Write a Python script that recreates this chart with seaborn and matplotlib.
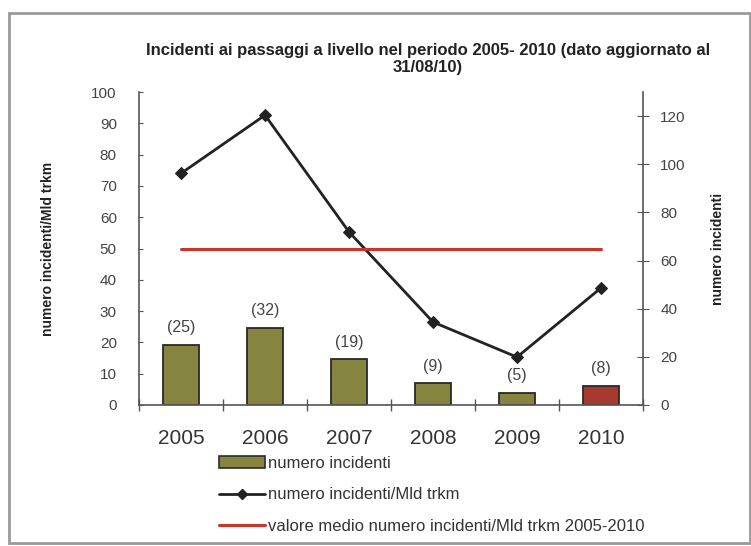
import numpy as np
import pandas as pd
import matplotlib
matplotlib.use("Agg")
import matplotlib.pyplot as plt
from matplotlib.patches import Patch, Rectangle
from matplotlib.lines import Line2D
import seaborn as sns

# Data
anni = ["2005", "2006", "2007", "2008", "2009", "2010"]
numero_incidenti = [25, 32, 19, 9, 5, 8]
incidenti_mld_trkm = [74.0, 92.6, 55.3, 26.5, 15.3, 37.4]
valore_medio = 50.0

bar_colors = ["#85853f", "#85853f", "#85853f", "#85853f", "#85853f", "#a8392e"]

sns.set_style("white")
plt.rcParams["font.family"] = ["Liberation Sans", "DejaVu Sans"]

fig = plt.figure(figsize=(7.51, 5.46), dpi=100)
ax = fig.add_axes([139 / 751, 1 - 405 / 546, (643 - 139) / 751, (405 - 92) / 546])
ax2 = ax.twinx()

df = pd.DataFrame({"anno": anni, "n": numero_incidenti})

# Bars: number of incidents on the right-hand scale
sns.barplot(data=df, x="anno", y="n", hue="anno", palette=bar_colors, legend=False,
            width=0.42, edgecolor="#2a2a2a", linewidth=1.3, ax=ax2, saturation=1)
for i, v in enumerate(numero_incidenti):
    ax2.text(i, v + 4, f"({v})", ha="center", va="bottom", fontsize=11.5, color="#444444")

# Line: incidents per billion train-km on the left-hand scale
x = np.arange(len(anni))
sns.lineplot(x=x, y=incidenti_mld_trkm, ax=ax, color="#222222", marker="D",
             markersize=6, linewidth=2, markeredgecolor="#222222")
sns.lineplot(x=[0, len(anni) - 1], y=[valore_medio, valore_medio], ax=ax,
             color="#c8352a", linewidth=2.2)

# Put the line axes above the bars
ax.set_zorder(ax2.get_zorder() + 1)
ax.patch.set_visible(False)

ax.set_xlim(-0.5, 5.5)
ax.set_ylim(0, 100)
ax2.set_ylim(0, 130)

ax.set_yticks(np.arange(0, 101, 10))
ax2.set_yticks(np.arange(0, 121, 20))
ax.set_xticks(x)
ax.set_xticklabels(anni, fontsize=15, color="#333333")
ax.set_xticks(np.arange(-0.5, 6, 1), minor=True)
ax.tick_params(axis="x", which="major", length=0, pad=17)
ax.tick_params(axis="x", which="minor", length=9, direction="inout", color="#555555", width=1,
               bottom=True)
ax2.tick_params(axis="x", which="both", bottom=False, top=False, labelbottom=False)
ax.set_xlabel("")
ax2.set_xlabel("")
ax.tick_params(axis="y", labelsize=11, labelcolor="#444444", length=3, direction="in",
               color="#555555", pad=16)
ax2.tick_params(axis="y", labelsize=11, labelcolor="#444444", length=9, direction="inout",
                color="#555555", pad=8)

for a in (ax, ax2):
    a.spines["top"].set_visible(False)
    for s in ("left", "right", "bottom"):
        a.spines[s].set_color("#555555")
        a.spines[s].set_linewidth(1.2)
ax.spines["right"].set_visible(False)
ax2.spines["left"].set_visible(False)
ax2.spines["bottom"].set_visible(False)

ax.set_ylabel("numero incidenti/Mld trkm", fontsize=10, fontweight="bold", labelpad=26,
              color="#222222")
ax2.set_ylabel("numero incidenti", fontsize=10, fontweight="bold", labelpad=18,
               color="#222222")

fig.text(428 / 751, 1 - 59 / 546,
         "Incidenti ai passaggi a livello nel periodo 2005- 2010 (dato aggiornato al\n31/08/10)",
         ha="center", va="center", fontsize=12, fontweight="bold", color="#222222",
         linespacing=1.1)

handles = [
    Patch(facecolor="#85853f", edgecolor="#2a2a2a", linewidth=1.2),
    Line2D([0], [0], color="#222222", linewidth=2, marker="D", markersize=5),
    Line2D([0], [0], color="#c8352a", linewidth=2.2),
]
labels = ["numero incidenti", "numero incidenti/Mld trkm",
          "valore medio numero incidenti/Mld trkm 2005-2010"]
fig.legend(handles, labels, loc="upper left", bbox_to_anchor=(212 / 751, 1 - 449 / 546),
           frameon=False, fontsize=12, labelspacing=1.0, handlelength=2.8,
           handletextpad=0.15, borderaxespad=0, labelcolor="#333333")

# Outer frame
fig.patches.append(Rectangle((9 / 751, 3 / 546), 741 / 751, 530 / 546, fill=False,
                             edgecolor="#9a9a9a", linewidth=2, transform=fig.transFigure))

fig.savefig("out.png", dpi=100, facecolor="white")
